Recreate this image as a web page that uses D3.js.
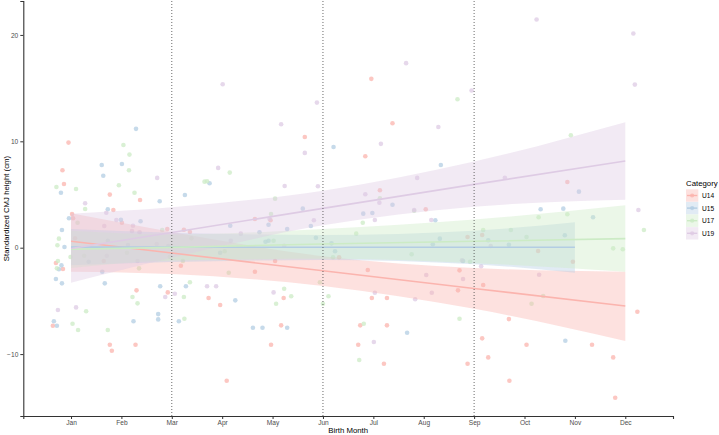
<!DOCTYPE html>
<html>
<head>
<meta charset="utf-8">
<script src="https://cdn.jsdelivr.net/npm/d3@7"></script>
<style>
  body { margin: 0; background: #fff; }
  text { font-family: "Liberation Sans", Arial, sans-serif; }
</style>
</head>
<body>
<div id="chart"></div>
<script>
// month ticks
const monthTicks = [1, 2, 3, 4, 5, 6, 7, 8, 9, 10, 11, 12];
const monthLabels = ["Jan", "Feb", "Mar", "Apr", "May", "Jun", "Jul", "Aug", "Sep", "Oct", "Nov", "Dec"];
const yTicks = [-10, 0, 10, 20];
const markerMonths = [3, 6, 9];
const categories = ["U14", "U15", "U17", "U19"];

// [birth month, standardized CMJ height]
const u14Points = [[0.95,9.88],[0.83,7.28],[0.86,5.99],[1.77,4.99],[2.37,4.49],[1.84,3.55],[5.64,10.41],[6.96,15.87],[7.38,11.70],[6.84,8.60],[7.13,5.40],[8.04,3.61],[10.85,6.18],[1.02,3.17],[0.70,-1.44],[0.84,-2.00],[0.64,-7.34],[1.77,-9.12],[1.81,-9.69],[2.01,2.35],[2.30,-4.01],[2.28,-9.12],[2.92,-4.20],[2.91,1.76],[3.24,1.69],[3.36,1.48],[3.73,-4.73],[3.96,-5.39],[4.09,-12.51],[4.65,2.70],[4.96,2.58],[4.65,-2.26],[5.22,-4.73],[5.17,-7.30],[4.97,-9.12],[6.89,-2.10],[6.97,-4.73],[7.27,-4.73],[6.74,-7.30],[7.27,-7.30],[6.70,-9.12],[7.21,-10.91],[8.71,-2.13],[8.68,-4.01],[8.87,1.01],[9.16,1.19],[10.27,-0.31],[9.18,-3.51],[9.69,-6.71],[12.24,-6.02],[9.16,-8.52],[10.04,-9.12],[11.34,-9.12],[9.28,-10.31],[8.87,-10.91],[11.76,-10.31],[9.70,-12.51],[11.80,-14.11],[1.04,2.77],[10.96,-1.32],[3.18,-1.69],[5.05,-1.25],[6.32,-0.90],[1.65,-1.25],[1.08,0.88]];
const u15Points = [[0.80,5.17],[1.61,7.78],[1.64,6.77],[2.01,7.87],[2.29,11.17],[1.73,3.61],[2.76,4.36],[3.26,4.96],[3.75,6.06],[5.60,3.67],[6.21,9.47],[8.34,7.78],[7.38,4.04],[6.80,3.20],[6.98,3.26],[11.08,5.27],[10.32,3.61],[10.77,3.67],[0.96,2.77],[0.82,1.67],[0.87,0.07],[0.76,-2.03],[0.81,-1.66],[0.70,-2.94],[0.82,-3.35],[0.66,-6.92],[0.72,-7.34],[1.73,0.66],[1.62,-2.26],[1.67,-3.35],[1.99,2.63],[2.38,2.48],[2.24,-6.92],[2.77,-3.63],[2.73,-6.24],[2.73,-6.74],[3.14,-6.92],[3.28,-3.63],[4.26,-4.95],[4.16,2.07],[4.92,2.16],[5.29,1.76],[5.76,2.04],[4.74,1.45],[4.86,0.56],[4.92,0.66],[4.61,-7.53],[4.80,-7.53],[5.29,-7.53],[8.23,2.58],[8.32,0.85],[7.67,-8.00],[11.36,2.86],[9.28,0.70],[10.81,-8.75],[8.78,-1.25],[6.24,-0.34],[10.80,1.17],[9.69,0.28],[6.17,0.41],[3.96,-0.47],[8.18,0.32],[5.86,0.94],[2.93,0.16],[2.13,0.25],[1.35,-1.32]];
const u17Points = [[0.71,5.71],[1.10,5.52],[2.04,9.66],[2.16,8.75],[2.15,7.28],[1.95,5.87],[2.26,5.17],[1.28,3.64],[4.15,7.06],[3.65,6.21],[3.70,6.25],[5.05,4.61],[7.13,4.65],[7.81,3.48],[8.67,13.96],[10.92,10.57],[4.97,3.17],[0.76,0.85],[0.73,0.23],[0.99,-0.87],[0.74,-1.25],[0.72,-1.94],[1.30,-5.98],[1.03,-7.15],[1.14,-7.74],[1.13,2.35],[1.73,-7.74],[2.22,-4.64],[2.32,-5.23],[2.81,1.67],[3.25,-6.68],[3.24,-4.64],[3.36,-3.25],[4.13,-2.35],[5.02,0.66],[5.23,-3.86],[5.37,-4.57],[5.07,-5.27],[5.94,-3.25],[6.11,-4.57],[6.00,-5.27],[6.79,2.35],[6.81,-7.15],[6.72,-10.56],[8.71,-6.68],[10.28,2.86],[10.85,3.14],[12.37,1.67],[9.18,1.67],[9.73,1.67],[10.14,-5.27],[10.37,-4.54],[11.76,-0.06],[11.95,-0.15],[8.92,-1.32],[2.35,-1.94],[4.05,-0.34],[6.66,1.32],[7.76,-0.62],[10.04,1.01],[6.20,-0.90],[2.96,-0.85],[3.22,-1.25],[3.39,0.88],[2.11,-0.47],[1.26,-0.75]];
const u19Points = [[1.28,4.18],[2.71,6.56],[4.01,15.37],[3.92,7.50],[5.17,11.61],[5.64,8.91],[5.88,13.64],[5.24,5.80],[5.90,5.78],[7.65,17.35],[7.15,9.76],[8.29,11.35],[7.87,6.56],[6.84,5.02],[7.12,4.23],[7.81,3.55],[8.95,14.77],[10.24,21.45],[12.16,20.13],[12.19,15.33],[9.61,6.58],[12.26,3.55],[0.74,-5.86],[1.10,-5.61],[1.70,3.29],[1.66,2.04],[1.90,2.61],[2.23,2.07],[2.21,1.57],[2.36,1.45],[2.87,-4.64],[3.06,-4.33],[3.70,-3.63],[3.88,-3.63],[4.37,1.32],[5.82,2.58],[5.02,-4.20],[7.03,2.61],[7.03,-4.23],[7.01,-8.87],[8.15,2.61],[8.05,-2.57],[8.16,-4.23],[7.83,-4.85],[8.78,-2.94],[10.29,-2.54],[9.14,-1.75],[8.76,-1.19],[4.94,2.73],[5.23,0.19],[9.33,0.16],[2.70,0.35],[4.17,0.66],[2.32,-1.25],[1.71,-0.75]];

// linear fit + confidence band
const u14FitX = [1, 3, 6, 9, 12];
const u14FitMid = [0.6, -0.5, -2.17, -3.83, -5.48];
const u14FitLow = [-2.26, -2.48, -3.6, -5.75, -8.78];
const u14FitHigh = [3.23, 1.48, -0.8, -1.9, -2.26];

const u15FitX = [1, 3, 6, 9, 11];
const u15FitMid = [0.05, 0.05, 0.04, 0.04, 0.04];
const u15FitLow = [-1.65, -1.35, -1.15, -1.55, -2.35];
const u15FitHigh = [1.75, 1.4, 1.2, 1.6, 2.39];

const u17FitX = [1, 3, 6, 9, 12];
const u17FitMid = [-0.15, 0.03, 0.35, 0.6, 0.85];
const u17FitLow = [-1.9, -1.2, -1.05, -1.45, -2.26];
const u17FitHigh = [1.6, 1.25, 1.75, 2.65, 4.0];

const u19FitX = [1, 3, 6, 9, 12];
const u19FitMid = [-0.08, 1.43, 3.7, 5.95, 8.15];
const u19FitLow = [-3.3, -0.95, 2.1, 3.85, 4.5];
const u19FitHigh = [3.2, 3.8, 5.36, 8.1, 11.8];

const colors = ["#FBB4AE", "#B3CDE3", "#CCEBC5", "#DECBE4"];

const series = [
  { pts: u14Points, fx: u14FitX, mid: u14FitMid, lo: u14FitLow, hi: u14FitHigh },
  { pts: u15Points, fx: u15FitX, mid: u15FitMid, lo: u15FitLow, hi: u15FitHigh },
  { pts: u17Points, fx: u17FitX, mid: u17FitMid, lo: u17FitLow, hi: u17FitHigh },
  { pts: u19Points, fx: u19FitX, mid: u19FitMid, lo: u19FitLow, hi: u19FitHigh }
];

const W = 719, H = 435;
const plotLeft = 23.3, plotRight = 673, plotTop = 1, plotBottom = 416;

const svg = d3.select("#chart").append("svg")
  .attr("width", W).attr("height", H);

const x = d3.scaleLinear().domain([0.053, 12.947]).range([plotLeft, plotRight]);
const y = d3.scaleLinear().domain([-15.82, 23.19]).range([plotBottom, plotTop]);

// points
series.forEach((s, i) => {
  svg.append("g").selectAll("circle")
    .data(s.pts)
    .join("circle")
    .attr("cx", d => x(d[0]))
    .attr("cy", d => y(d[1]))
    .attr("r", 2.3)
    .attr("fill", colors[i])
    .attr("fill-opacity", 0.75);
});

// confidence bands
series.forEach((s, i) => {
  const rows = s.fx.map((v, j) => ({ m: v, lo: s.lo[j], hi: s.hi[j] }));
  svg.append("path")
    .datum(rows)
    .attr("fill", colors[i])
    .attr("fill-opacity", 0.4)
    .attr("d", d3.area().curve(d3.curveMonotoneX)
      .x(d => x(d.m)).y0(d => y(d.lo)).y1(d => y(d.hi)));
});

// fit lines
series.forEach((s, i) => {
  const rows = s.fx.map((v, j) => ({ m: v, v: s.mid[j] }));
  svg.append("path")
    .datum(rows)
    .attr("fill", "none")
    .attr("stroke", colors[i])
    .attr("stroke-width", 1.6)
    .attr("d", d3.line().x(d => x(d.m)).y(d => y(d.v)));
});

// dotted month markers
svg.append("g").selectAll("line")
  .data(markerMonths)
  .join("line")
  .attr("x1", d => x(d)).attr("x2", d => x(d))
  .attr("y1", plotTop).attr("y2", plotBottom)
  .attr("stroke", "#444")
  .attr("stroke-width", 0.8)
  .attr("stroke-dasharray", "1,2");

// axes
const xAxis = svg.append("g")
  .attr("transform", `translate(0,${plotBottom})`)
  .call(d3.axisBottom(x).tickValues(monthTicks)
    .tickFormat((d, i) => monthLabels[i]).tickSize(3).tickPadding(1));
const yAxis = svg.append("g")
  .attr("transform", `translate(${plotLeft},0)`)
  .call(d3.axisLeft(y).tickValues(yTicks).tickSize(3).tickPadding(2));

[xAxis, yAxis].forEach(g => {
  g.select(".domain").attr("stroke", "#333").attr("stroke-width", 1.1);
  g.selectAll(".tick line").attr("stroke", "#333");
  g.selectAll(".tick text")
    .attr("fill", "#4d4d4d")
    .style("font-size", "6.6px")
    .style("font-family", "Liberation Sans, Arial, sans-serif");
});

svg.append("text")
  .attr("x", (plotLeft + plotRight) / 2)
  .attr("y", 433)
  .attr("text-anchor", "middle")
  .style("font-size", "7.8px")
  .text("Birth Month");

svg.append("text")
  .attr("transform", `translate(8.5,${(plotTop + plotBottom) / 2}) rotate(-90)`)
  .attr("text-anchor", "middle")
  .style("font-size", "7.8px")
  .text("Standardized CMJ height (cm)");

// legend
const legend = svg.append("g").attr("transform", "translate(686,0)");
legend.append("text")
  .attr("x", 0).attr("y", 185.5)
  .style("font-size", "7.8px")
  .text("Category");

categories.forEach((c, i) => {
  const cy = 195.5 + i * 12.6;
  const key = legend.append("g");
  key.append("rect")
    .attr("x", 0).attr("y", cy - 6.2)
    .attr("width", 12.3).attr("height", 12.4)
    .attr("fill", colors[i]).attr("fill-opacity", 0.4);
  key.append("line")
    .attr("x1", 1).attr("x2", 11.3)
    .attr("y1", cy).attr("y2", cy)
    .attr("stroke", colors[i]).attr("stroke-width", 1.4);
  key.append("circle")
    .attr("cx", 6.15).attr("cy", cy).attr("r", 2.1)
    .attr("fill", colors[i]).attr("fill-opacity", 0.8);
  legend.append("text")
    .attr("x", 16).attr("y", cy + 2.4)
    .style("font-size", "6.6px")
    .text(c);
});
</script>
</body>
</html>
